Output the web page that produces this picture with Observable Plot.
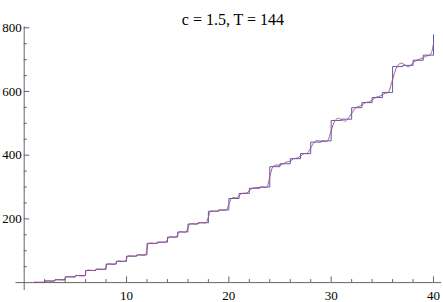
<!DOCTYPE html>
<html>
<head>
<meta charset="utf-8">
<script src="https://cdn.jsdelivr.net/npm/d3@7"></script>
<script src="https://cdn.jsdelivr.net/npm/@observablehq/plot@0.6"></script>
<style>
  html, body { margin: 0; padding: 0; background: #fff; }
</style>
</head>
<body>
<div id="chart"></div>
<script>
const title = "c = 1.5, T = 144";

// Step function: level after the jump at each integer x
const stepX = [1,2,3,4,5,6,7,8,9,10,11,12,13,14,15,16,17,18,19,20,21,22,23,24,25,26,27,28,29,30,31,32,33,34,35,36,37,38,39,40];
const stepY = [1,5,9,18,22,38,42,58,67,83,87,123,127,143,159,184,188,224,228,264,280,296,300,364,373,389,405,441,445,509,513,549,565,581,597,678,682,698,714,778];

// Smooth approximation curve
const curveX = [1,1.92,2,2.08,2.92,3,3.08,3.92,4,4.08,4.93,5,5.07,5.92,6,6.08,6.91,7,7.09,7.9,8,8.1,8.88,9,9.12,9.87,10,10.13,10.86,11,11.14,11.84,12,12.16,12.83,13,13.17,13.82,14,14.18,14.8,15,15.2,15.79,16,16.21,16.78,17,17.22,17.77,18,18.23,18.75,19,19.25,19.74,20,20.26,20.55,20.74,21,21.27,21.72,22,22.28,22.6,23,23.35,23.69,24,24.31,24.6,25,25.35,25.7,26,26.33,26.67,27,27.35,27.64,28,28.36,28.65,29,29.35,29.62,30,30.38,30.7,31,31.4,31.62,32,32.4,32.7,33,33.4,33.7,34,34.4,34.65,35,35.3,35.55,36,36.45,36.85,37.2,37.55,37.8,38,38.4,38.7,39,39.35,39.6,39.8,40];
const curveY = [1,1,3,5,5,7,9,9,13.5,18,18,20,22,22,30,38,38,40,42,42,50,58,58,62.5,67,67,75,83,83,85,87,87,105,123,123,125,127,127,135,143,143,151,159,159,171.5,184,184,186,188,188,206,224,224,226,228,228,246,264,267,266,272,280,281,288,296,298,298,300,299,332,364,369,369,374,379,381,389,391,397,405,405,423,441,446,443,443,444,477,509,516,511,507,514,531,549,553,557,566,567,573,582,584,589,595,596,637.5,679,689,683,677,683,690,699,702,706,712,713,722,750];

const xMajor = [10,20,30,40];
const xMinor = [2,4,6,8,12,14,16,18,22,24,26,28,32,34,36,38];
const yMajor = [200,400,600,800];
const yMinor = [50,100,150,250,300,350,450,500,550,650,700,750];

const steps = stepX.map((x, i) => ({x, y: stepY[i]}));
const curve = curveX.map((x, i) => ({x, y: curveY[i]}));

const axisColor = "#666";
const blue = "#4a48a8";
const purple = "#a4487e";
const font = "'Liberation Serif', 'Times New Roman', serif";

const chart = Plot.plot({
  width: 443,
  height: 302,
  marginLeft: 23.7,
  marginRight: 1.8,
  marginTop: 26.3,
  marginBottom: 19.9,
  style: {fontFamily: font, fontSize: "13px", background: "#fff", color: "#000"},
  x: {domain: [0, 40.8]},
  y: {domain: [0, 803]},
  marks: [
    Plot.ruleY([0], {x1: -0.8, x2: 40.8, stroke: axisColor}),
    Plot.ruleX([0], {y1: -25, y2: 803, stroke: axisColor}),
    Plot.ruleX(xMajor, {x: d => d, y1: 0, y2: 18, stroke: axisColor}),
    Plot.ruleX(xMinor, {x: d => d, y1: 0, y2: 9.5, stroke: axisColor}),
    Plot.ruleY(yMajor, {y: d => d, x1: 0, x2: 0.55, stroke: axisColor}),
    Plot.ruleY(yMinor, {y: d => d, x1: 0, x2: 0.3, stroke: axisColor}),
    Plot.axisX({ticks: xMajor, tickSize: 0, tickPadding: 8, anchor: "bottom", fontSize: 13, fontFamily: font, fontVariant: "normal", label: null}),
    Plot.axisY({ticks: yMajor, tickSize: 0, tickPadding: 2.5, anchor: "left", fontSize: 13, fontFamily: font, fontVariant: "normal", label: null}),
    Plot.line(steps, {x: "x", y: "y", curve: "step-after", stroke: blue, strokeWidth: 0.9}),
    Plot.line(curve, {x: "x", y: "y", curve: "catmull-rom", stroke: purple, strokeWidth: 0.9}),
    Plot.text([title], {frameAnchor: "top", dy: -13, fontSize: 16, fontFamily: font, fill: "#000"})
  ]
});
document.getElementById("chart").appendChild(chart);
</script>
</body>
</html>
